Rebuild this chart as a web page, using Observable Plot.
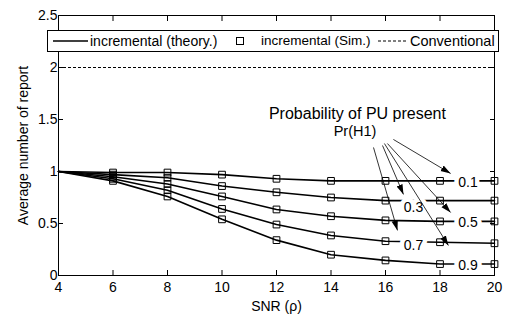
<!DOCTYPE html>
<html><head><meta charset="utf-8">
<script src="https://cdn.jsdelivr.net/npm/d3@7"></script>
<script src="https://cdn.jsdelivr.net/npm/@observablehq/plot@0.6"></script>
<style>
body{margin:0;background:#fff;}
#wrap{position:relative;width:508px;height:314px;font-family:"Liberation Sans",Arial,sans-serif;}
#legend{position:absolute;left:47px;top:30px;width:450px;height:20px;border:1px solid #000;background:#fff;font-size:14px;z-index:2;}
.li{position:absolute;top:2px;white-space:nowrap;line-height:16px;}
#legend svg{position:absolute;top:0;}
</style></head><body><div id="wrap"><div id="legend"></div></div>
<script>
const snr = [4, 6, 8, 10, 12, 14, 16, 18, 20];
const prH1 = [0.1, 0.3, 0.5, 0.7, 0.9];
const avg01 = [1, 0.99, 0.99, 0.97, 0.93, 0.91, 0.91, 0.91, 0.91];
const avg03 = [1, 0.97, 0.94, 0.86, 0.80, 0.75, 0.72, 0.72, 0.72];
const avg05 = [1, 0.95, 0.88, 0.76, 0.635, 0.57, 0.53, 0.52, 0.52];
const avg07 = [1, 0.93, 0.82, 0.64, 0.49, 0.385, 0.33, 0.32, 0.31];
const avg09 = [1, 0.91, 0.76, 0.54, 0.34, 0.20, 0.145, 0.11, 0.11];
const simSnr = [6, 8, 10, 12, 14, 16, 18, 20];
const conventional = 2;
const xTicks = [4, 6, 8, 10, 12, 14, 16, 18, 20];
const yTicks = [0, 0.5, 1, 1.5, 2, 2.5];
const labelText = ["0.1", "0.3", "0.5", "0.7", "0.9"];
const labelX = [19.03, 17.03, 19.03, 17.03, 19.03];
const labelY = [0.894, 0.654, 0.51, 0.288, 0.096];
const arrowX1 = [16.29, 15.89, 16.07, 15.56, 15.96];
const arrowY1 = [1.308, 1.25, 1.269, 1.231, 1.269];
const arrowX2 = [18.39, 16.66, 18.39, 16.44, 18.31];
const arrowY2 = [0.981, 0.779, 0.606, 0.433, 0.288];
const noteLines = ["Probability of PU present", "Pr(H1)"];
const noteX = [14.97, 14.88];
const noteY = [1.558, 1.385];
const noteSize = [16, 14.5];

const series = [avg01, avg03, avg05, avg07, avg09];
const data = prH1.flatMap((p, i) => snr.map((s, j) => ({snr: s, avg: series[i][j], pr: p})));
const simData = data.filter(d => simSnr.includes(d.snr));
const labels = labelText.map((t, i) => ({t, x: labelX[i], y: labelY[i]}));
const arrows = arrowX1.map((x1, i) => ({x1, y1: arrowY1[i], x2: arrowX2[i], y2: arrowY2[i]}));
const notes = noteLines.map((t, i) => ({t, x: noteX[i], y: noteY[i], s: noteSize[i]}));
const font = '"Liberation Sans", Arial, sans-serif';

function filledArrow(color) {
  const ns = "http://www.w3.org/2000/svg";
  const m = document.createElementNS(ns, "marker");
  m.setAttribute("viewBox", "-10 -4 10 8");
  m.setAttribute("markerWidth", "10");
  m.setAttribute("markerHeight", "8");
  m.setAttribute("markerUnits", "userSpaceOnUse");
  m.setAttribute("orient", "auto");
  m.setAttribute("refX", "0");
  m.setAttribute("refY", "0");
  const p = document.createElementNS(ns, "path");
  p.setAttribute("d", "M-10,-3.2L0,0L-10,3.2Z");
  p.setAttribute("fill", color || "black");
  p.setAttribute("stroke", "none");
  m.appendChild(p);
  return m;
}

const chart = Plot.plot({
  width: 508, height: 314,
  marginLeft: 58, marginRight: 14, marginTop: 15, marginBottom: 39,
  style: {fontFamily: font, fontSize: "13px", background: "white", color: "black"},
  x: {domain: [4, 20]},
  y: {domain: [0, 2.5]},
  marks: [
    Plot.ruleY([conventional], {stroke: "black", strokeWidth: 1, strokeDasharray: "3,2"}),
    Plot.line(data, {x: "snr", y: "avg", z: "pr", stroke: "black", strokeWidth: 1.6}),
    Plot.dot(simData, {x: "snr", y: "avg", symbol: "square", r: 3.8, stroke: "black", strokeWidth: 1, fill: "none"}),
    Plot.text(labels, {x: "x", y: "y", text: "t", fontSize: 14, fill: "black", stroke: "white", strokeWidth: 9}),
    Plot.link(arrows, {x1: "x1", y1: "y1", x2: "x2", y2: "y2", stroke: "black", strokeWidth: 0.8, markerEnd: filledArrow}),
    Plot.text(notes, {x: "x", y: "y", text: "t", fontSize: "s", fill: "black"}),
    Plot.frame({stroke: "black"}),
    Plot.axisX(xTicks, {anchor: "bottom", tickSize: -5, tickPadding: 12, fontSize: 14, label: "SNR (ρ)", labelAnchor: "center", labelArrow: "none", labelOffset: 35}),
    Plot.axisX(xTicks, {anchor: "top", tickSize: -5, tickFormat: () => "", label: null}),
    Plot.axisY(yTicks, {anchor: "left", tickSize: -5, tickPadding: 6, fontSize: 14, tickFormat: d => String(d), label: "Average number of report", labelAnchor: "center", labelArrow: "none", labelOffset: 40.5}),
    Plot.axisY(yTicks, {anchor: "right", tickSize: -5, tickFormat: () => "", label: null})
  ]
});
const wrap = document.getElementById("wrap");
wrap.insertBefore(chart, wrap.firstChild);

const lg = document.getElementById("legend");
lg.innerHTML = `
<svg width="42" height="20" style="left:4px"><line x1="1" x2="36" y1="10" y2="10" stroke="black" stroke-width="1.6"/></svg>
<span class="li" style="left:42px">incremental (theory.)</span>
<svg width="20" height="20" style="left:182px"><rect x="6.5" y="6.5" width="7" height="7" fill="none" stroke="black"/></svg>
<span class="li" style="left:213px;font-size:13.5px">incremental (Sim.)</span>
<svg width="34" height="20" style="left:328px"><line x1="2" x2="30" y1="10" y2="10" stroke="black" stroke-dasharray="3,2"/></svg>
<span class="li" style="left:362px;font-size:14.5px">Conventional</span>`;
</script>
</body></html>
